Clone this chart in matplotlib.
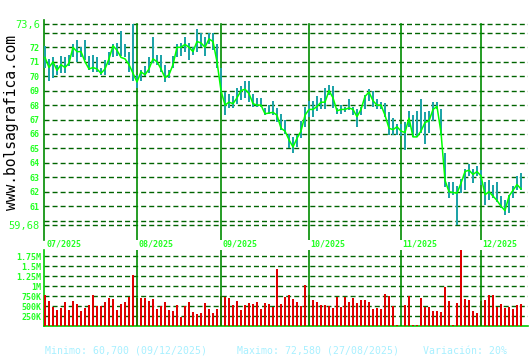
import matplotlib.pyplot as plt

plt.rcParams["lines.scale_dashes"] = False

# trading day index 0 = 01/07/2025
close = [71.3, 70.6, 71.0, 70.4, 70.8, 70.6, 70.9, 72.0, 71.7, 71.7,
         71.0, 70.5, 70.6, 70.5, 70.2, 70.5, 71.2, 72.1, 71.8, 71.3,
         71.2, 70.8, 70.2, 69.6, 70.3, 70.1, 70.5, 71.2, 71.0, 70.5,
         69.9, 70.1, 70.8, 72.0, 72.0, 72.2, 72.0, 71.7, 72.4, 72.3,
         72.0, 72.58, 72.4, 71.0, 69.0, 68.0, 68.2, 68.1, 68.5, 69.0,
         69.1, 68.8, 68.1, 68.0, 68.0, 67.4, 67.45, 67.5, 67.3, 66.4,
         66.2, 65.6, 65.1, 65.7, 66.2, 67.3, 67.7, 67.7, 67.9, 68.2,
         68.2, 69.0, 68.5, 67.6, 67.7, 67.7, 67.8, 67.7, 67.2, 67.7,
         68.6, 68.9, 68.3, 68.0, 68.0, 67.3, 66.4, 66.3, 66.5, 66.2,
         66.1, 67.1, 65.8, 65.8, 66.2, 66.8, 66.9, 67.7, 67.9, 66.1,
         62.8, 62.0, 61.95, 61.9, 62.6, 63.4, 63.5, 63.2, 63.4, 63.1,
         61.8, 62.0, 61.7, 61.4, 61.0, 60.7, 61.7, 62.1, 62.5, 62.2]

high = [72.1, 71.2, 71.3, 70.8, 71.4, 71.3, 71.5, 72.2, 72.5, 72.0,
        72.5, 71.4, 71.5, 71.3, 70.6, 71.1, 71.7, 72.2, 72.3, 73.1,
        72.2, 71.7, 73.6, 70.1, 70.4, 70.7, 71.3, 72.7, 71.5, 71.5,
        70.8, 70.4, 71.4, 72.2, 72.3, 72.7, 72.3, 72.0, 73.3, 73.0,
        72.7, 73.0, 73.0, 72.2, 70.6, 68.9, 68.8, 68.6, 69.2, 69.3,
        69.7, 69.7, 68.8, 68.5, 68.5, 67.8, 68.0, 68.3, 67.8, 67.4,
        67.0, 66.0, 65.8, 65.9, 66.9, 67.9, 68.3, 68.3, 68.6, 68.5,
        69.2, 69.4, 69.3, 67.8, 68.0, 67.9, 68.4, 67.9, 67.7, 67.9,
        68.7, 69.1, 69.0, 68.4, 68.2, 68.15, 67.5, 67.1, 66.7, 66.7,
        66.8, 67.6, 67.3, 67.6, 68.4, 67.5, 67.6, 68.2, 68.2, 67.7,
        64.7, 62.7, 62.7, 62.4, 62.9, 63.6, 63.9, 63.6, 63.8, 63.5,
        62.7, 62.8, 62.5, 62.7, 61.7, 61.45, 61.8, 62.4, 63.1, 63.3]

low = [70.6, 69.7, 69.9, 70.1, 70.2, 70.2, 70.7, 71.3, 71.0, 71.3,
       71.1, 70.4, 70.3, 70.3, 70.1, 70.1, 70.8, 71.3, 71.4, 71.4,
       71.3, 70.3, 69.7, 69.2, 69.7, 70.0, 70.2, 70.9, 70.8, 70.3,
       69.6, 69.9, 70.6, 71.3, 71.4, 71.7, 71.1, 71.5, 71.7, 72.0,
       71.4, 72.2, 71.8, 70.6, 68.9, 67.3, 67.8, 67.8, 68.1, 68.35,
       68.5, 68.2, 67.9, 67.9, 67.9, 67.3, 67.35, 67.3, 66.8, 66.3,
       66.0, 65.0, 64.7, 65.1, 65.7, 66.5, 67.2, 67.2, 67.6, 67.7,
       67.7, 68.7, 67.8, 67.4, 67.35, 67.5, 67.65, 67.3, 66.5, 67.3,
       67.7, 68.3, 67.9, 67.75, 67.7, 67.2, 65.9, 65.95, 65.9, 65.85,
       64.9, 66.5, 65.8, 65.8, 66.1, 65.3, 66.1, 66.9, 67.7, 65.95,
       62.3, 61.6, 61.8, 59.7, 61.9, 62.1, 63.1, 62.6, 63.1, 62.5,
       61.1, 61.45, 61.6, 61.3, 60.9, 60.4, 60.5, 61.6, 62.1, 62.1]

# volume in thousands
volume = [783, 633, 475, 408, 450, 608, 408, 633, 558, 383,
          458, 525, 775, 508, 508, 608, 708, 683, 408, 558,
          608, 733, 1283, 708, 708, 708, 633, 683, 433, 508,
          608, 408, 367, 533, 225, 508, 608, 358, 308, 333,
          583, 433, 333, 433, 758, 733, 708, 533, 633, 408,
          533, 583, 558, 608, 433, 583, 558, 483, 1433, 558,
          733, 783, 683, 608, 508, 1033, 783, 658, 608, 533,
          533, 508, 458, 733, 483, 733, 608, 708, 583, 658,
          658, 608, 433, 458, 433, 808, 758, 508, 30, 0,
          533, 758, 20, 20, 708, 483, 483, 383, 383, 358,
          983, 633, 20, 583, 1900, 683, 658, 383, 333, 633,
          658, 775, 775, 483, 558, 458, 483, 433, 533, 558]

month_start = [0, 23, 44, 66, 89, 109]
month_labels = ["07/2025", "08/2025", "09/2025", "10/2025", "11/2025", "12/2025"]

price_ticks = [59.68, 60, 61, 62, 63, 64, 65, 66, 67, 68, 69, 70, 71, 72, 73, 73.6]
price_labels = ["59,68", "", "61", "62", "63", "64", "65", "66", "67", "68",
                "69", "70", "71", "72", "", "73,6"]
vol_ticks = [250, 500, 750, 1000, 1250, 1500, 1750]
vol_labels = ["250K", "500K", "750K", "1M", "1.25M", "1.5M", "1.75M"]

days = list(range(len(close)))

GRID = "#006400"
MONTH = "#008c00"
LABEL = "#22ff22"
MONO = "DejaVu Sans Mono"

fig = plt.figure(figsize=(5.3, 3.6), dpi=100)
ax = fig.add_axes([44 / 530, 1 - 240 / 360, 484 / 530, 220 / 360])
av = fig.add_axes([44 / 530, 1 - 326 / 360, 484 / 530, 76 / 360])

xlim = (-0.25, 120.75)

# price panel
ax.set_xlim(*xlim)
ax.set_ylim(58.664, 73.889)
ax.set_yticks(price_ticks)
ax.set_yticklabels(price_labels)
ax.tick_params(axis="y", length=0, pad=3)
ax.set_xticks([])
for t in ax.get_yticklabels():
    t.set_fontfamily(MONO)
    t.set_color(LABEL)
    if t.get_text() in ("59,68", "73,6"):
        t.set_fontsize(7.5)
    else:
        t.set_fontsize(6)
        t.set_fontweight("bold")
ax.grid(axis="y", color=GRID, lw=1.0, dashes=(3.6, 2.2))
for s in ["top", "right", "bottom"]:
    ax.spines[s].set_visible(False)
ax.spines["left"].set_color(MONTH)
ax.spines["left"].set_linewidth(1.2)

top_frac = (73.6 - 58.664) / (73.889 - 58.664)
for d, lab in zip(month_start, month_labels):
    if d > 0:
        ax.axvline(d, ymax=top_frac, color=MONTH, lw=1.2, zorder=3)
    ax.text(d + 0.3, -0.02, lab, transform=ax.get_xaxis_transform(),
            ha="left", va="center", family=MONO, fontsize=6,
            fontweight="bold", color=LABEL)

ax.vlines(days, low, high, color="#1ea3a8", lw=1.1, zorder=4, antialiased=False)
ax.plot(days, close, color="#00ff00", lw=1.1, zorder=5)

# volume panel
av.set_xlim(*xlim)
av.set_ylim(0, 1900)
av.set_yticks(vol_ticks)
av.set_yticklabels(vol_labels, family=MONO, fontsize=6, fontweight="bold", color=LABEL)
av.tick_params(axis="y", length=0, pad=2)
av.set_xticks([])
av.grid(axis="y", color=GRID, lw=1.0, dashes=(3.6, 2.2))
av.set_axisbelow(True)
for s in ["top", "right"]:
    av.spines[s].set_visible(False)
for s in ["left", "bottom"]:
    av.spines[s].set_color("#00cc00")
    av.spines[s].set_linewidth(1.2)
av.bar(days, volume, width=0.3, color="#e00000", linewidth=0, zorder=3)
for d in month_start[1:]:
    av.axvline(d, color=MONTH, lw=1.2, zorder=4)

fig.text(45 / 530, 1 - 352 / 360,
         "Minimo: 60,700 (09/12/2025)     Maximo: 72,580 (27/08/2025)    Variación: 20%",
         ha="left", va="center", family=MONO, fontsize=7.1, color="#a8f0ff")
fig.text(12 / 530, 1 - 123 / 360, "www.bolsagrafica.com", rotation=90,
         ha="center", va="center", family=MONO, fontsize=10.5, color="black")

fig.savefig("out.png", dpi=100)
